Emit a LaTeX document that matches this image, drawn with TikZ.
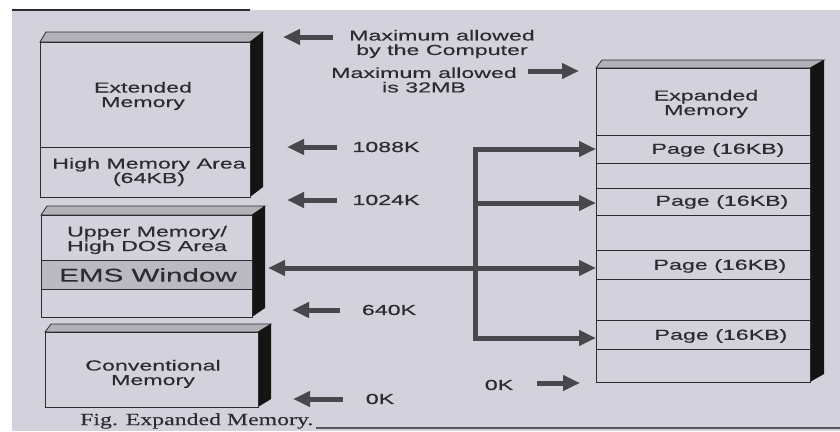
\documentclass[tikz,border=0pt]{standalone}
\usepackage{fontspec}
\setmainfont{Liberation Serif}
\newfontfamily\labfont[FakeStretch=1.6,FakeBold=0.4]{Liberation Sans}
\newfontfamily\capfont[FakeStretch=1.4,FakeBold=0.3]{Liberation Serif}
\usetikzlibrary{arrows.meta}
\definecolor{paper}{HTML}{D3D1DC}
\definecolor{ink}{HTML}{2C2C30}
\definecolor{arr}{HTML}{48484C}
\definecolor{topface}{HTML}{B2B1B8}
\definecolor{emsband}{HTML}{BBBAC2}
\newcommand\slabfaces[6]{% x1 y1 x2 y2 dx dy
  \filldraw[fill=topface,draw=ink,line width=0.8pt] (#1,#2) -- (#1+6,#2-#6) -- (#3+#5,#2-#6) -- (#3,#2) -- cycle;
  \fill[black!92] (#3,#2) -- (#3+#5,#2-#6) -- (#3+#5,#4-#6) -- (#3,#4) -- cycle;
}
\begin{document}
\begin{tikzpicture}[x=1pt,y=-1pt,
  lbl/.style={font=\labfont\fontsize{14.5}{14.5}\selectfont, text=ink, align=center, inner sep=0},
  bigfont/.style={font=\labfont\fontsize{18.5}{18.5}\selectfont, text=ink, align=center, inner sep=0},
  rowbox/.style={draw=ink, line width=0.9pt, anchor=north west, inner sep=0, minimum width=#1},
  bigarrow/.style={draw=arr, line width=5pt, -{Triangle[length=17pt,width=15pt]}},
  twoarrow/.style={draw=arr, line width=5pt, {Triangle[length=17pt,width=15pt]}-{Triangle[length=17pt,width=15pt]}},
  busline/.style={draw=arr, line width=5pt, line cap=rect}]
\useasboundingbox (0,0) rectangle (840,431);
\fill[white] (0,0) rectangle (840,431);
\fill[paper] (12,10) rectangle (840,431);
\draw[ink, line width=1.6pt] (12,10) -- (250,10);
\draw[ink!80, line width=1.2pt] (316,428) -- (840,428);

% ---- Box A: Extended memory + HMA
\slabfaces{40}{42}{250}{197}{13}{10}
\node[rowbox=210pt, minimum height=105pt] (ext) at (40,42) {};
\node[rowbox=210pt, minimum height=50pt] (hma) at (40,147) {};
\node[lbl] (extT) at (143,96) {Extended\\Memory};
\node[lbl] (hmaT) at (149,172) {High Memory Area\\(64KB)};

% ---- Box B: Upper memory
\slabfaces{41}{215}{252}{317}{13}{9}
\node[rowbox=211pt, minimum height=45pt] (umb) at (41,215) {};
\node[rowbox=211pt, minimum height=29pt, fill=emsband] (ems) at (41,260) {};
\node[rowbox=211pt, minimum height=28pt] (umb2) at (41,289) {};
\node[lbl] (umbT) at (147,240) {Upper Memory/\\High DOS Area};
\node[bigfont] (emsT) at (148,275) {EMS Window};

% ---- Box C: Conventional
\slabfaces{45}{332}{258}{407}{13}{8}
\node[rowbox=213pt, minimum height=75pt] (conv) at (45,332) {};
\node[lbl] (convT) at (153,374) {Conventional\\Memory};

% ---- Box D: Expanded memory
\slabfaces{596}{68}{810}{382}{14}{8}
\node[rowbox=214pt, minimum height=67pt] (hdr) at (596,68) {};
\node[rowbox=214pt, minimum height=28pt] (pg1) at (596,135) {};
\node[rowbox=214pt, minimum height=25pt] (bl1) at (596,163) {};
\node[rowbox=214pt, minimum height=27pt] (pg2) at (596,188) {};
\node[rowbox=214pt, minimum height=35pt] (bl2) at (596,215) {};
\node[rowbox=214pt, minimum height=29pt] (pg3) at (596,250) {};
\node[rowbox=214pt, minimum height=41pt] (bl3) at (596,279) {};
\node[rowbox=214pt, minimum height=29pt] (pg4) at (596,320) {};
\node[rowbox=214pt, minimum height=33pt] (bl4) at (596,349) {};
\node[lbl] (hdrT) at (706,104) {Expanded\\Memory};
\node[lbl] (pg1T) at (718,150) {Page (16KB)};
\node[lbl] (pg2T) at (722,202) {Page (16KB)};
\node[lbl] (pg3T) at (720,266) {Page (16KB)};
\node[lbl] (pg4T) at (721,336) {Page (16KB)};

% ---- address labels and arrows
\node[lbl] (maxC) at (442,44) {Maximum allowed\\by the Computer};
\coordinate (maxCa) at (333,37); \coordinate (maxCb) at (283,37);
\draw[bigarrow] (maxCa) -- (maxCb);

\node[lbl] (max32) at (424,80) {Maximum allowed\\is 32MB};
\coordinate (max32a) at (528,71); \coordinate (max32b) at (579,71);
\draw[bigarrow] (max32a) -- (max32b);

\node[lbl] (k1088) at (386,147) {1088K};
\coordinate (k1088a) at (337,147); \coordinate (k1088b) at (287,147);
\draw[bigarrow] (k1088a) -- (k1088b);

\node[lbl] (k1024) at (386,200) {1024K};
\coordinate (k1024a) at (337,200); \coordinate (k1024b) at (287,200);
\draw[bigarrow] (k1024a) -- (k1024b);

\node[lbl] (k640) at (389,310) {640K};
\coordinate (k640a) at (340,310); \coordinate (k640b) at (292,310);
\draw[bigarrow] (k640a) -- (k640b);

\node[lbl] (k0l) at (380,399) {0K};
\coordinate (k0la) at (343,399); \coordinate (k0lb) at (293,399);
\draw[bigarrow] (k0la) -- (k0lb);

\node[lbl] (k0r) at (499,385) {0K};
\coordinate (k0ra) at (537,383); \coordinate (k0rb) at (580,383);
\draw[bigarrow] (k0ra) -- (k0rb);

% ---- bus between EMS window and pages
\coordinate (b1) at (475,149);
\coordinate (b2) at (475,203);
\coordinate (b4) at (475,338);
\coordinate (emsL) at (268,268);
\draw[busline] (b1) -- (b4);
\draw[bigarrow] (b1) -- (pg1.west |- b1);
\draw[bigarrow] (b2) -- (pg2.west |- b2);
\draw[bigarrow] (b4) -- (pg4.west |- b4);
\draw[twoarrow] (emsL) -- (pg3.west |- emsL);

% ---- caption
\node[font=\capfont\fontsize{17}{17}\selectfont, text=ink, anchor=west, inner sep=0] (cap) at (80,421) {Fig. Expanded Memory.};
\end{tikzpicture}
\end{document}
